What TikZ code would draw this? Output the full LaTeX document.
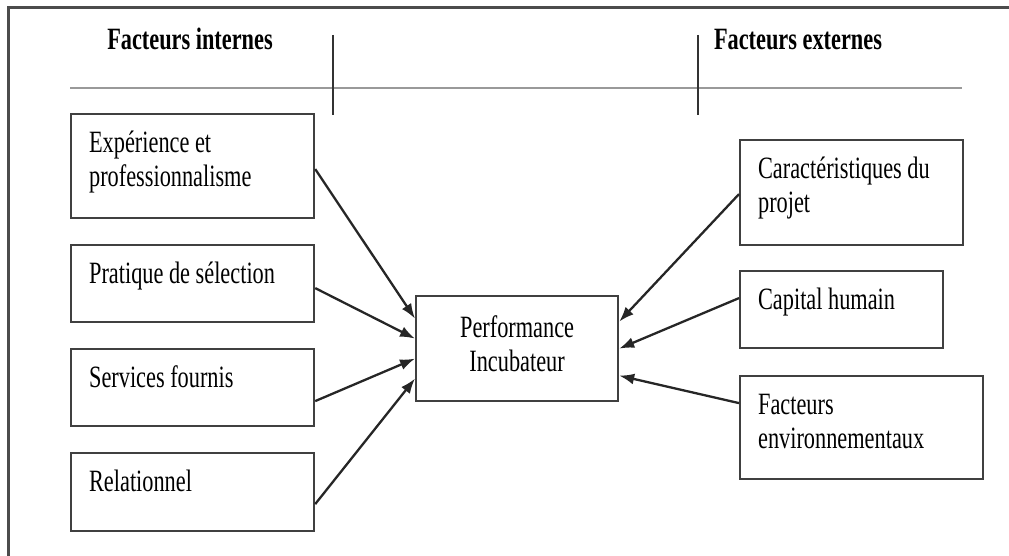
\documentclass[tikz,border=0pt]{standalone}
\usepackage{fontspec}
\setmainfont{Liberation Serif}[FakeStretch=0.72]
\usetikzlibrary{arrows.meta}

% text of a factor box, set from the top left
\newcommand\boxtext[3]{\parbox[c][#1][t]{#2}{\raggedright\vspace*{15pt}\strut #3}}

\begin{document}
\begin{tikzpicture}[x=1pt, y=-1pt,
  every node/.style={font=\fontsize{31}{34}\selectfont},
  titre/.style={font=\fontsize{31}{34}\selectfont\bfseries, anchor=base},
  facteur/.style={draw=black!75, line width=2.2pt, inner xsep=18pt, inner ysep=0pt, anchor=north west},
  perfbox/.style={draw=black!75, line width=2.2pt, minimum width=202pt, minimum height=105pt,
    align=center, anchor=north west},
  fleche/.style={-{Latex[length=15pt,width=11pt]}, line width=2.3pt, black!85}]

  \useasboundingbox (0,0) rectangle (1009,556);

  % frame and header
  \draw[line width=3pt, black!70] (8,556) -- (8,8) -- (1009,8);

  \node[titre] (hdint) at (190,50) {Facteurs internes};
  \node[titre] (hdext) at (798,50) {Facteurs externes};

  \draw[line width=2.6pt, black!40] (70,88) -- (962,88);
  \draw[line width=2pt, black!80] (333,35) -- (333,115);
  \draw[line width=2pt, black!80] (698,35) -- (698,115);

  % internal factors
  \node[facteur] (exp) at (70,113) {\boxtext{104pt}{207pt}{Expérience et\\professionnalisme}};
  \node[facteur] (sel) at (70,244) {\boxtext{77pt}{207pt}{Pratique de sélection}};
  \node[facteur] (srv) at (70,348) {\boxtext{77pt}{207pt}{Services fournis}};
  \node[facteur] (rel) at (70,452) {\boxtext{78pt}{207pt}{Relationnel}};

  % performance
  \node[perfbox] (perf) at (415,295) {Performance\\Incubateur\strut};

  % external factors
  \node[facteur] (car) at (739,139) {\boxtext{105pt}{187pt}{Caractéristiques du\\projet}};
  \node[facteur] (cap) at (739,270) {\boxtext{77pt}{167pt}{Capital humain}};
  \node[facteur] (env) at (739,375) {\boxtext{103pt}{207pt}{Facteurs\\environnementaux}};

  \draw[fleche] ([yshift=-3pt]exp.east) -- ([yshift=30pt]perf.west);
  \draw[fleche] ([yshift=-4.5pt]sel.east) -- ([yshift=10pt]perf.west);
  \draw[fleche] ([yshift=-13.5pt]srv.east) -- ([yshift=-10pt]perf.west);
  \draw[fleche] ([yshift=-12pt]rel.east) -- ([yshift=-30pt]perf.west);

  \draw[fleche] ([yshift=-1.5pt]car.west) -- ([yshift=27pt]perf.east);
  \draw[fleche] ([yshift=11.5pt]cap.west) -- (perf.east);
  \draw[fleche] ([yshift=24.5pt]env.west) -- ([yshift=-27pt]perf.east);

\end{tikzpicture}
\end{document}
